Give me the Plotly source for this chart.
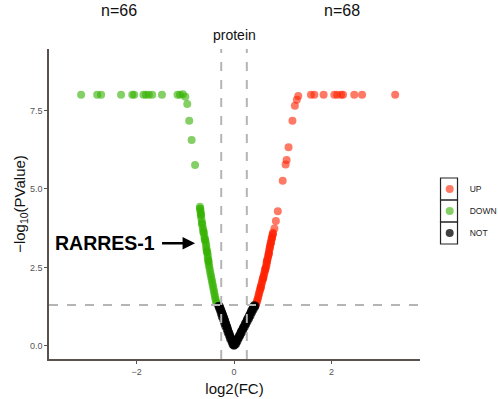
import plotly.graph_objects as go

# ---- data ----
up_x = [1.58, 1.65, 1.84, 2.06, 2.12, 2.20, 2.24, 2.47, 2.63, 3.31,
        1.32, 1.29, 1.25, 1.20, 1.12, 1.08, 1.06, 1.00, 0.90, 0.86, 0.83,
        0.80, 0.79, 0.78, 0.77, 0.76, 0.75, 0.74, 0.73, 0.72, 0.72, 0.71, 0.70,
        0.69, 0.68, 0.67, 0.67, 0.66, 0.65, 0.64, 0.63, 0.62, 0.61, 0.60, 0.59,
        0.58, 0.57, 0.56, 0.55, 0.54, 0.53, 0.52, 0.51, 0.50, 0.49, 0.48, 0.47,
        0.46, 0.45, 0.80, 0.78, 0.76, 0.74, 0.71, 0.68, 0.64, 0.60, 0.55]
up_y = [8.0, 8.0, 8.0, 8.0, 8.0, 8.0, 8.0, 8.0, 8.0, 8.0,
        7.96, 7.84, 7.65, 7.17, 6.33, 5.92, 5.78, 5.26, 4.29, 3.98, 3.74,
        3.60, 3.53, 3.46, 3.40, 3.32, 3.25, 3.18, 3.10, 3.03, 2.97, 2.90, 2.84,
        2.78, 2.72, 2.66, 2.60, 2.54, 2.48, 2.42, 2.36, 2.30, 2.24, 2.18, 2.12,
        2.06, 2.00, 1.94, 1.88, 1.82, 1.76, 1.70, 1.64, 1.58, 1.52, 1.46, 1.41,
        1.36, 1.32, 3.56, 3.43, 3.28, 3.14, 2.93, 2.70, 2.45, 2.15, 1.85]

down_x = [-3.14, -2.81, -2.73, -2.32, -2.09, -2.05, -1.86, -1.81, -1.75, -1.68, -1.48, -1.16,
          -1.11, -1.05, -1.00, -0.96, -0.92, -0.87, -0.80,
          -0.70, -0.69, -0.69, -0.68, -0.68, -0.67, -0.66, -0.65, -0.64, -0.63, -0.62,
          -0.61, -0.60, -0.59, -0.58, -0.57, -0.57, -0.56, -0.55, -0.54, -0.54, -0.53,
          -0.52, -0.52, -0.51, -0.50, -0.49, -0.48, -0.47, -0.46, -0.45, -0.44, -0.43,
          -0.42, -0.41, -0.40, -0.39, -0.38, -0.37, -0.36,
          -0.70, -0.68, -0.66, -0.63, -0.60, -0.56, -0.53]
down_y = [8.0, 8.0, 8.0, 8.0, 8.0, 8.0, 8.0, 8.0, 8.0, 8.0, 8.0, 8.0,
          8.0, 8.02, 7.94, 7.71, 7.17, 6.56, 5.76,
          4.43, 4.35, 4.28, 4.22, 4.15, 4.05, 3.95, 3.85, 3.75, 3.68, 3.60,
          3.50, 3.42, 3.35, 3.28, 3.20, 3.12, 3.05, 2.98, 2.90, 2.82, 2.75,
          2.68, 2.60, 2.53, 2.45, 2.36, 2.28, 2.20, 2.12, 2.04, 1.96, 1.88,
          1.80, 1.72, 1.64, 1.56, 1.49, 1.42, 1.36,
          4.38, 4.18, 3.90, 3.62, 3.38, 3.00, 2.70]

not_x = [-0.01, -0.02, -0.03, -0.04, -0.05, -0.06, -0.07, -0.08, -0.09, -0.10,
         -0.11, -0.12, -0.13, -0.14, -0.15, -0.16, -0.17, -0.18, -0.19, -0.20,
         -0.21, -0.22, -0.23, -0.24, -0.25, -0.26, -0.27, -0.28, -0.29, -0.30,
         -0.03, -0.05, -0.08, -0.10, -0.13, -0.15, -0.18, -0.20, -0.22, -0.25,
         -0.27, -0.29, -0.31, -0.32,
         0.01, 0.02, 0.04, 0.05, 0.06, 0.08, 0.09, 0.10, 0.12, 0.13, 0.14, 0.15,
         0.17, 0.18, 0.19, 0.21, 0.22, 0.23, 0.25, 0.26, 0.27, 0.28, 0.30, 0.31,
         0.32, 0.34, 0.35, 0.36, 0.38, 0.39, 0.40, 0.41,
         0.04, 0.07, 0.10, 0.13, 0.16, 0.19, 0.22, 0.25, 0.28, 0.31, 0.34, 0.37,
         0.40, 0.43, 0.44, 0.00]
not_y = [0.03, 0.08, 0.12, 0.16, 0.20, 0.24, 0.28, 0.33, 0.37, 0.41,
         0.45, 0.50, 0.55, 0.60, 0.64, 0.68, 0.73, 0.78, 0.82, 0.87,
         0.91, 0.95, 1.00, 1.04, 1.08, 1.12, 1.16, 1.20, 1.24, 1.28,
         0.04, 0.13, 0.22, 0.31, 0.42, 0.52, 0.62, 0.72, 0.82, 0.93,
         1.03, 1.13, 1.22, 1.27,
         0.03, 0.07, 0.11, 0.15, 0.19, 0.23, 0.27, 0.31, 0.35, 0.39, 0.43, 0.47,
         0.51, 0.55, 0.59, 0.64, 0.68, 0.72, 0.76, 0.80, 0.84, 0.88, 0.92, 0.96,
         1.00, 1.05, 1.09, 1.13, 1.17, 1.21, 1.25, 1.29,
         0.05, 0.14, 0.24, 0.33, 0.42, 0.51, 0.60, 0.69, 0.78, 0.87, 0.96, 1.06,
         1.15, 1.24, 1.28, 0.00]

fc_cut = 0.263           # log2(1.2)
p_cut = 1.30103          # -log10(0.05)
n_down_label = "n=66"
n_up_label = "n=68"
highlight = "RARRES-1"

FONT = "Liberation Sans, Arial, sans-serif"

fig = go.Figure()
fig.add_trace(go.Scatter(x=up_x, y=up_y, mode="markers", name="UP", legend="legend",
                         marker=dict(color="#ff2200", size=8, opacity=0.6, line=dict(width=0))))
fig.add_trace(go.Scatter(x=down_x, y=down_y, mode="markers", name="DOWN", legend="legend2",
                         marker=dict(color="#33b000", size=8, opacity=0.6, line=dict(width=0))))
fig.add_trace(go.Scatter(x=not_x, y=not_y, mode="markers", name="NOT", legend="legend3",
                         marker=dict(color="#000000", size=8, opacity=0.75, line=dict(width=0))))

dash = dict(color="#b5b5b5", width=2, dash="dash")
fig.add_shape(type="line", xref="x", yref="paper", x0=-fc_cut, x1=-fc_cut, y0=0, y1=1, line=dash, layer="above")
fig.add_shape(type="line", xref="x", yref="paper", x0=fc_cut, x1=fc_cut, y0=0, y1=1, line=dash, layer="above")
fig.add_shape(type="line", xref="paper", yref="y", x0=0, x1=1, y0=p_cut, y1=p_cut, line=dash, layer="above")

# legend key boxes (ggplot-style bordered keys)
box_top = [0.5839, 0.5129, 0.4419]
for top in box_top:
    fig.add_shape(type="rect", xref="paper", yref="paper",
                  x0=1.0553, x1=1.1011, y0=top - 0.0710, y1=top,
                  line=dict(color="#222", width=1.2), fillcolor="rgba(0,0,0,0)", layer="above")

# annotations
fig.add_annotation(x=-2.36, y=1.0, xref="x", yref="paper", yshift=39, text=n_down_label,
                   showarrow=False, font=dict(size=16, color="#111", family=FONT), yanchor="middle")
fig.add_annotation(x=2.22, y=1.0, xref="x", yref="paper", yshift=39, text=n_up_label,
                   showarrow=False, font=dict(size=16, color="#111", family=FONT), yanchor="middle")
fig.add_annotation(x=0.5, y=1.0, xref="paper", yref="paper", yshift=14, text="protein",
                   showarrow=False, font=dict(size=14, color="#111", family=FONT), yanchor="middle")

fig.add_annotation(x=-0.80, y=3.27, xref="x", yref="y", ax=-36, ay=0, text=" ",
                   showarrow=True, arrowhead=2, arrowsize=1.0, arrowwidth=2.5, arrowcolor="#000")
fig.add_annotation(x=-0.80, y=3.27, xref="x", yref="y", xshift=-38, text="<b>" + highlight + "</b>",
                   showarrow=False, xanchor="right", yanchor="middle",
                   font=dict(size=19.5, color="#000", family=FONT))

leg_common = dict(xanchor="left", yanchor="middle", x=1.0261,
                  font=dict(size=8.5, color="#222", family=FONT),
                  bgcolor="rgba(0,0,0,0)", borderwidth=0)

fig.update_layout(
    width=498, height=399,
    margin=dict(l=49, r=78, t=49, b=40, autoexpand=False),
    paper_bgcolor="white", plot_bgcolor="white",
    font=dict(family=FONT, color="#333"),
    showlegend=True,
    legend=dict(y=0.5484, **leg_common),
    legend2=dict(y=0.4774, **leg_common),
    legend3=dict(y=0.4065, **leg_common),
    xaxis=dict(range=[-3.8, 3.82], tickvals=[-2, 0, 2], ticktext=["\u22122", "0", "2"],
               showgrid=False, zeroline=False, showline=True, linecolor="#5b514c", linewidth=1.5,
               ticks="outside", ticklen=3, tickcolor="#5b514c", tickfont=dict(size=9, color="#555"),
               automargin=True,
               title=dict(text="log2(FC)", font=dict(size=15, color="#111"), standoff=8)),
    yaxis=dict(range=[-0.42, 9.46], tickvals=[0, 2.5, 5, 7.5], ticktext=["0.0", "2.5", "5.0", "7.5"],
               showgrid=False, zeroline=False, showline=True, linecolor="#5b514c", linewidth=1.5,
               ticks="outside", ticklen=3, tickcolor="#5b514c", tickfont=dict(size=9, color="#555"),
               automargin=True,
               title=dict(text="\u2212log<sub>10</sub>(PValue)", font=dict(size=15, color="#111"), standoff=0)),
)

fig.write_html("out.html", config={"displayModeBar": False},
               post_script="document.body.style.margin='0';document.body.style.overflow='hidden';")
